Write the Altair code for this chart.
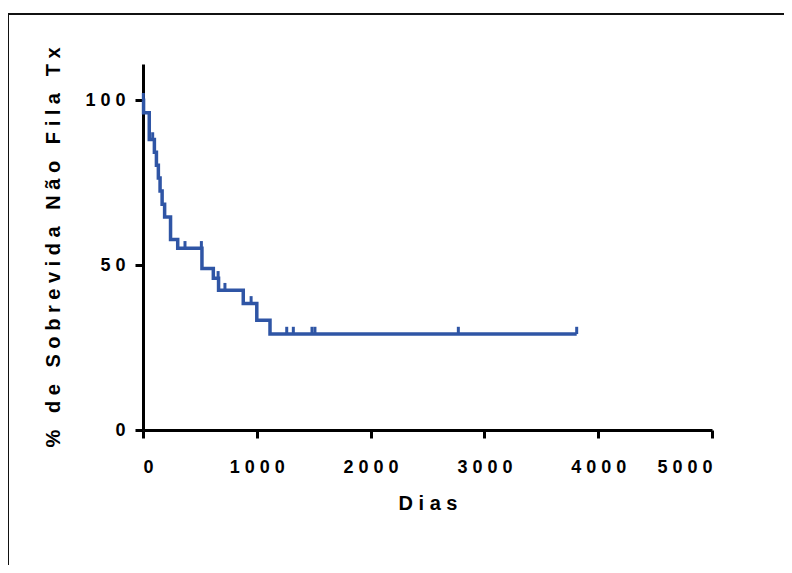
import altair as alt
import pandas as pd

# Kaplan-Meier step curve
step_days = [0, 5, 55, 100, 118, 135, 150, 168, 190, 242, 305, 518, 618, 664, 881, 1000, 1116, 3811]
step_surv = [100, 96.2, 88.1, 84.2, 80.3, 76.4, 72.5, 68.5, 64.6, 57.8, 55.1, 49.0, 46.0, 42.4, 38.4, 33.3, 29.1, 29.1]

# censored observations
censor_days = [3, 85, 369, 513, 660, 720, 950, 1263, 1321, 1485, 1511, 2771, 3811]
censor_surv = [100, 88.1, 55.1, 55.1, 46.0, 42.4, 38.4, 29.1, 29.1, 29.1, 29.1, 29.1, 29.1]

x_ticks = [0, 1000, 2000, 3000, 4000, 5000]
y_ticks = [0, 50, 100]

x_title = "Dias"
y_title = "% de Sobrevida Não Fila Tx"

NB = "\u00a0"
def spaced(t):
    return NB.join(list(t.replace(" ", NB)))

BLUE = "#2F55A5"
FONT = "Liberation Sans"

steps = pd.DataFrame({"d": step_days, "s": step_surv})
cens = pd.DataFrame({"d": censor_days, "s": censor_surv})

x_enc = alt.X("d:Q", scale=alt.Scale(domain=[0, 5000], nice=False),
              axis=alt.Axis(values=x_ticks, format="d", title=spaced(x_title),
                            labelExpr="join(split(datum.label, ''), '\u00a0')",
                            labelPadding=20, titlePadding=17))
y_enc = alt.Y("s:Q", scale=alt.Scale(domain=[0, 111], nice=False),
              axis=alt.Axis(values=y_ticks, format="d", title=spaced(y_title),
                            labelExpr="join(split(datum.label, ''), '\u00a0')",
                            labelPadding=10, titlePadding=21))

line = alt.Chart(steps).mark_line(interpolate="step-after", color=BLUE, strokeWidth=3.5).encode(
    x=x_enc, y=y_enc)

ticks = alt.Chart(cens).transform_calculate(top="datum.s + 2.2").mark_rule(
    color=BLUE, strokeWidth=3).encode(x="d:Q", y="s:Q", y2="top:Q")

# decorative figure frame: only left and top edges are visible in the picture
frame_df = pd.DataFrame({"a": [0]})
frame_left = alt.Chart(frame_df).mark_rule(color="#111111", strokeWidth=2).encode(
    x=alt.value(-135), y=alt.value(-50), y2=alt.value(520))
frame_top = alt.Chart(frame_df).mark_rule(color="#111111", strokeWidth=2).encode(
    x=alt.value(-136), x2=alt.value(660), y=alt.value(-50))

chart = alt.layer(frame_left, frame_top, line, ticks).properties(
    width=569, height=366,
    autosize=alt.AutoSizeParams(type="none"),
    padding={"left": 135, "top": 56, "right": 72, "bottom": 135},
    background="white",
).configure_view(stroke=None).configure_axis(
    grid=False,
    domainColor="black", domainWidth=3,
    tickColor="black", tickWidth=3, tickSize=8,
    labelFont=FONT, labelFontSize=18, labelFontWeight="bold", labelColor="black",
    titleFont=FONT, titleFontSize=20, titleFontWeight="bold", titleColor="black",
)

chart.save("out.html", embed_options={"renderer": "svg", "actions": False})
